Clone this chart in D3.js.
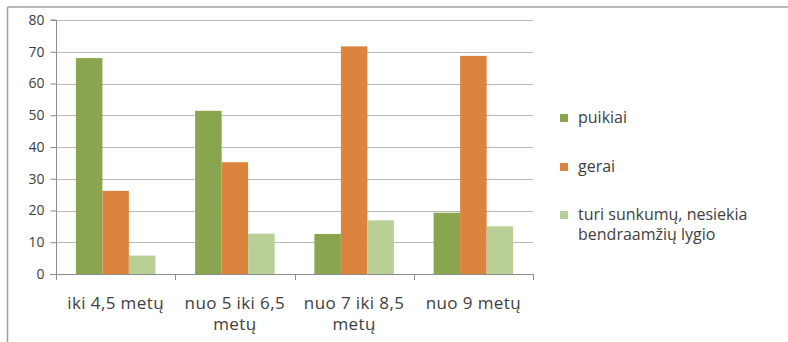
<!DOCTYPE html>
<html>
<head>
<meta charset="utf-8">
<script src="https://cdn.jsdelivr.net/npm/d3@7"></script>
<style>
html,body{margin:0;padding:0;background:#fff;}
svg{display:block;}
text{font-family:"Open Sans",sans-serif;fill:#404040;}
</style>
</head>
<body>
<svg id="chart" width="788" height="342"></svg>
<script>
const categories = [["iki 4,5 metų"], ["nuo 5 iki 6,5", "metų"], ["nuo 7 iki 8,5", "metų"], ["nuo 9 metų"]];
const seriesNames = ["puikiai", "gerai", "turi sunkumų, nesiekia bendraamžių lygio"];
const legendLines = [["puikiai"], ["gerai"], ["turi sunkumų, nesiekia", "bendraamžių lygio"]];
const puikiai = [68.0, 51.4, 12.6, 19.3];
const gerai = [26.2, 35.2, 71.7, 68.7];
const sunkumu = [5.8, 12.7, 16.9, 15.0];
const yTicks = [0, 10, 20, 30, 40, 50, 60, 70, 80];
const colors = ["#89a54e", "#db843d", "#b8cf96"];

const series = [puikiai, gerai, sunkumu];
const svg = d3.select("#chart");

// outer frame
svg.append("line").attr("x1", 7.5).attr("x2", 788).attr("y1", 7).attr("y2", 7)
  .attr("stroke", "#a0a0a0").attr("stroke-width", 1.5);
svg.append("line").attr("x1", 7.5).attr("x2", 7.5).attr("y1", 7).attr("y2", 342)
  .attr("stroke", "#a0a0a0").attr("stroke-width", 1.5);

const x0 = d3.scaleBand().domain(d3.range(categories.length)).range([56, 533]).paddingInner(0).paddingOuter(0);
const y = d3.scaleLinear().domain([0, 80]).range([274, 20]);
const groupW = x0.bandwidth() / 1.5;
const x1 = d3.scaleBand().domain(d3.range(series.length)).range([0, groupW]).padding(0);

// gridlines
svg.append("g").selectAll("line").data(yTicks.filter(d => d > 0)).join("line")
  .attr("x1", 56).attr("x2", 533)
  .attr("y1", d => Math.round(y(d)) + 0.5).attr("y2", d => Math.round(y(d)) + 0.5)
  .attr("stroke", "#b8b8b8").attr("stroke-width", 1.2);

// y axis
const yAxis = d3.axisLeft(y).tickValues(yTicks).tickSize(6).tickPadding(6);
const gy = svg.append("g").attr("transform", "translate(56.5,0)").call(yAxis);
gy.select(".domain").attr("stroke", "#8c8c8c").attr("d", "M-6," + y(80) + "H0V" + y(0));
gy.selectAll(".tick line").attr("stroke", "#8c8c8c");
gy.selectAll(".tick text").style("font-family", '"Open Sans",sans-serif').style("font-size", "14px").attr("fill", "#404040");

// bars
categories.forEach((c, i) => {
  const gx = x0(i) + (x0.bandwidth() - groupW) / 2;
  svg.append("g").attr("transform", `translate(${gx},0)`)
    .selectAll("rect").data(series.map((s, k) => ({k, v: s[i]}))).join("rect")
    .attr("x", d => x1(d.k)).attr("width", x1.bandwidth())
    .attr("y", d => y(d.v)).attr("height", d => y(0) - y(d.v))
    .attr("fill", d => colors[d.k]);
});

// x axis
const xAxisLine = svg.append("g");
xAxisLine.append("line").attr("x1", 50).attr("x2", 533).attr("y1", 274.5).attr("y2", 274.5).attr("stroke", "#8c8c8c");
const bounds = d3.range(categories.length + 1).map(i => i < categories.length ? x0(i) : x0(i - 1) + x0.bandwidth());
xAxisLine.selectAll("line.t").data(bounds).join("line").attr("class", "t")
  .attr("x1", d => Math.round(d) + 0.5).attr("x2", d => Math.round(d) + 0.5)
  .attr("y1", 274).attr("y2", 280).attr("stroke", "#8c8c8c");

const xl = svg.append("g");
categories.forEach((lines, i) => {
  lines.forEach((s, j) => {
    xl.append("text")
      .attr("x", x0(i) + x0.bandwidth() / 2)
      .attr("y", 309 + j * 21)
      .attr("text-anchor", "middle")
      .style("font-size", "17px")
      .style("letter-spacing", "0.4px")
      .text(s);
  });
});

// legend
const legendY = [118, 167, 215];
const lg = svg.append("g");
legendLines.forEach((lines, k) => {
  lg.append("rect").attr("x", 560).attr("y", legendY[k] - 4).attr("width", 8).attr("height", 8).attr("fill", colors[k]);
  lines.forEach((s, j) => {
    lg.append("text").attr("x", 578).attr("y", legendY[k] + 5 + j * 20)
      .style("font-size", "16px").text(s);
  });
});
</script>
</body>
</html>
